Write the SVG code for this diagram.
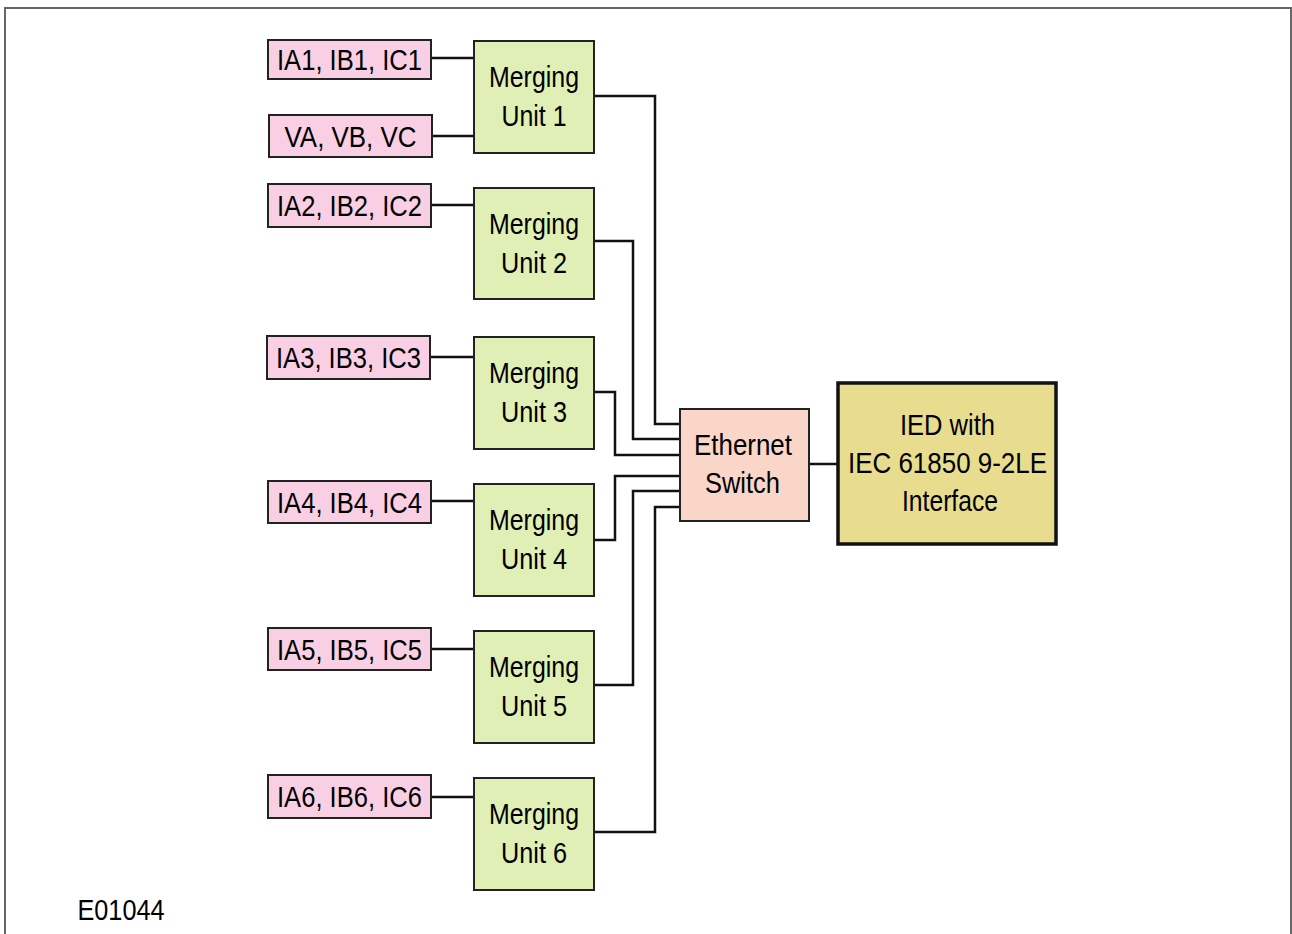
<svg xmlns="http://www.w3.org/2000/svg" width="1292" height="934" viewBox="0 0 1292 934">
<style>
.t{font-family:"Liberation Sans",Arial,sans-serif;font-size:29px;fill:#000;text-anchor:middle}
.pk{fill:#f9d0e3;stroke:#222;stroke-width:2}
.mu{fill:#e0efb6;stroke:#222;stroke-width:2}
.sw{fill:#f9d6c7;stroke:#222;stroke-width:2}
.ied{fill:#e8dc8e;stroke:#111;stroke-width:3.5}
.c{fill:none;stroke:#111;stroke-width:2.5}
</style>
<rect x="5" y="8" width="1286" height="940" fill="#fff" stroke="#666" stroke-width="2"/>
<g id="connectors">
<path class="c" d="M431 58H474M432 136H474M431 205H474M430 357H474M431 501H474M431 649H474M431 797H474"/>
<path class="c" d="M594 96H655V424H680"/>
<path class="c" d="M594 241H633V439H680"/>
<path class="c" d="M594 392H615V455H680"/>
<path class="c" d="M594 540H615V476H680"/>
<path class="c" d="M594 685H633V491H680"/>
<path class="c" d="M594 832H655V507H680"/>
<path class="c" d="M809 464H838"/>
</g>
<g id="in1"><rect class="pk" x="268" y="40" width="163" height="39"/><text class="t" x="349.5" y="70" textLength="145" lengthAdjust="spacingAndGlyphs">IA1, IB1, IC1</text></g>
<g id="inV"><rect class="pk" x="269" y="115" width="163" height="42"/><text class="t" x="350.5" y="146.5" textLength="132" lengthAdjust="spacingAndGlyphs">VA, VB, VC</text></g>
<g id="in2"><rect class="pk" x="268" y="184" width="163" height="43"/><text class="t" x="349.5" y="216" textLength="145" lengthAdjust="spacingAndGlyphs">IA2, IB2, IC2</text></g>
<g id="in3"><rect class="pk" x="267" y="336" width="163" height="43"/><text class="t" x="348.5" y="368" textLength="145" lengthAdjust="spacingAndGlyphs">IA3, IB3, IC3</text></g>
<g id="in4"><rect class="pk" x="268" y="481" width="163" height="42"/><text class="t" x="349.5" y="512.5" textLength="145" lengthAdjust="spacingAndGlyphs">IA4, IB4, IC4</text></g>
<g id="in5"><rect class="pk" x="268" y="628" width="163" height="42"/><text class="t" x="349.5" y="659.5" textLength="145" lengthAdjust="spacingAndGlyphs">IA5, IB5, IC5</text></g>
<g id="in6"><rect class="pk" x="268" y="775" width="163" height="43"/><text class="t" x="349.5" y="807" textLength="145" lengthAdjust="spacingAndGlyphs">IA6, IB6, IC6</text></g>
<g id="mu1"><rect class="mu" x="474" y="41" width="120" height="112"/><text class="t" x="534" y="87" textLength="90" lengthAdjust="spacingAndGlyphs">Merging</text><text class="t" x="534" y="126" textLength="65" lengthAdjust="spacingAndGlyphs">Unit 1</text></g>
<g id="mu2"><rect class="mu" x="474" y="188" width="120" height="111"/><text class="t" x="534" y="233.5" textLength="90" lengthAdjust="spacingAndGlyphs">Merging</text><text class="t" x="534" y="272.5" textLength="66" lengthAdjust="spacingAndGlyphs">Unit 2</text></g>
<g id="mu3"><rect class="mu" x="474" y="337" width="120" height="112"/><text class="t" x="534" y="383" textLength="90" lengthAdjust="spacingAndGlyphs">Merging</text><text class="t" x="534" y="422" textLength="66" lengthAdjust="spacingAndGlyphs">Unit 3</text></g>
<g id="mu4"><rect class="mu" x="474" y="484" width="120" height="112"/><text class="t" x="534" y="530" textLength="90" lengthAdjust="spacingAndGlyphs">Merging</text><text class="t" x="534" y="569" textLength="66" lengthAdjust="spacingAndGlyphs">Unit 4</text></g>
<g id="mu5"><rect class="mu" x="474" y="631" width="120" height="112"/><text class="t" x="534" y="677" textLength="90" lengthAdjust="spacingAndGlyphs">Merging</text><text class="t" x="534" y="716" textLength="66" lengthAdjust="spacingAndGlyphs">Unit 5</text></g>
<g id="mu6"><rect class="mu" x="474" y="778" width="120" height="112"/><text class="t" x="534" y="824" textLength="90" lengthAdjust="spacingAndGlyphs">Merging</text><text class="t" x="534" y="863" textLength="66" lengthAdjust="spacingAndGlyphs">Unit 6</text></g>
<g id="switch"><rect class="sw" x="680" y="409" width="129" height="112"/><text class="t" x="743" y="455" textLength="98" lengthAdjust="spacingAndGlyphs">Ethernet</text><text class="t" x="742.5" y="493" textLength="75" lengthAdjust="spacingAndGlyphs">Switch</text></g>
<g id="ied"><rect class="ied" x="838" y="383" width="218" height="161"/><text class="t" x="947.5" y="435" textLength="95" lengthAdjust="spacingAndGlyphs">IED with</text><text class="t" x="947.5" y="473" textLength="199" lengthAdjust="spacingAndGlyphs">IEC 61850 9-2LE</text><text class="t" x="950" y="511" textLength="96" lengthAdjust="spacingAndGlyphs">Interface</text></g>
<text class="t" x="121" y="920" textLength="87" lengthAdjust="spacingAndGlyphs">E01044</text>
</svg>
